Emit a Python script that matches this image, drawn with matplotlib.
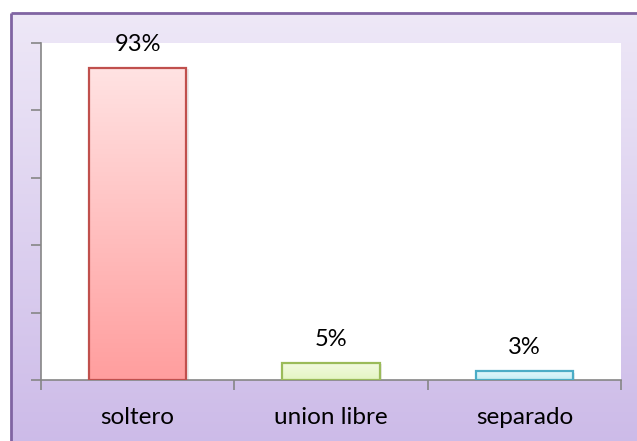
import numpy as np
import matplotlib
matplotlib.use("Agg")
import matplotlib.pyplot as plt
from matplotlib.colors import LinearSegmentedColormap

# chart values
categories = ["soltero", "union libre", "separado"]
values = [0.926, 0.05, 0.026]
labels = ["93%", "5%", "3%"]

# bar styles (top colour, bottom colour, edge colour)
bar_top = ["#FFE3E3", "#F2FADF", "#E2F7FB"]
bar_bottom = ["#FF9E9E", "#E4F5C2", "#C3EDF5"]
bar_edge = ["#C0504D", "#9BBB59", "#4BACC6"]

plt.rcParams["font.family"] = ["Lato", "DejaVu Sans"]

W, H = 637, 441
fig = plt.figure(figsize=(W / 100, H / 100), dpi=100)
fig.patch.set_facecolor("white")

# background panel with gradient and purple border
bg = fig.add_axes([0, 0, 1, 1], zorder=0)
bg.axis("off")
bg_cmap = LinearSegmentedColormap.from_list("bg", ["#EEE8F7", "#CCBAE8"])
grad = np.linspace(0, 1, 256).reshape(-1, 1)
bg.imshow(grad, cmap=bg_cmap, extent=[11, W + 10, H + 10, 13], aspect="auto")
bg.plot([11, 11], [H + 10, 13], color="#8064A2", lw=2, solid_capstyle="butt")
bg.plot([11, W + 10], [13, 13], color="#8064A2", lw=2, solid_capstyle="butt")
bg.set_xlim(0, W)
bg.set_ylim(H, 0)

# plot area
ax = fig.add_axes([41 / W, (H - 380) / H, 580 / W, 337 / H], zorder=1)
ax.set_facecolor("white")

width = 0.505
for i, v in enumerate(values):
    x0 = i + 0.5 - width / 2
    cmap = LinearSegmentedColormap.from_list("b%d" % i, [bar_bottom[i], bar_top[i]])
    # soft shadow
    ax.bar(i + 0.5 + 0.012, v, width, bottom=-0.004, color="#000000", alpha=0.08,
           zorder=1, linewidth=0)
    ax.imshow(grad, cmap=cmap, origin="lower", extent=[x0, x0 + width, 0, v],
              aspect="auto", zorder=2)
    ax.bar(i + 0.5, v, width, facecolor="none", edgecolor=bar_edge[i],
           linewidth=1.6, zorder=3)
    ax.text(i + 0.5, v + 0.05, labels[i], ha="center", va="baseline",
            fontsize=17, color="#000000", zorder=4)

ax.set_xlim(0, len(categories))
ax.set_ylim(0, 1.0)

for s in ["top", "right"]:
    ax.spines[s].set_visible(False)
for s in ["left", "bottom"]:
    ax.spines[s].set_color("#868686")
    ax.spines[s].set_linewidth(1.2)

ax.set_yticks(np.arange(0, 1.01, 0.2))
ax.set_yticklabels([])
ax.tick_params(axis="y", length=7, width=1.2, color="#868686", direction="out")

ax.set_xticks(range(len(categories) + 1))
ax.set_xticklabels([])
ax.set_xticks([i + 0.5 for i in range(len(categories))], minor=True)
ax.set_xticklabels(categories, minor=True, fontsize=17.5)
ax.tick_params(axis="x", which="major", length=7, width=1.2, color="#868686")
ax.tick_params(axis="x", which="minor", length=0, pad=19.5)

fig.savefig("out.png", dpi=100)
